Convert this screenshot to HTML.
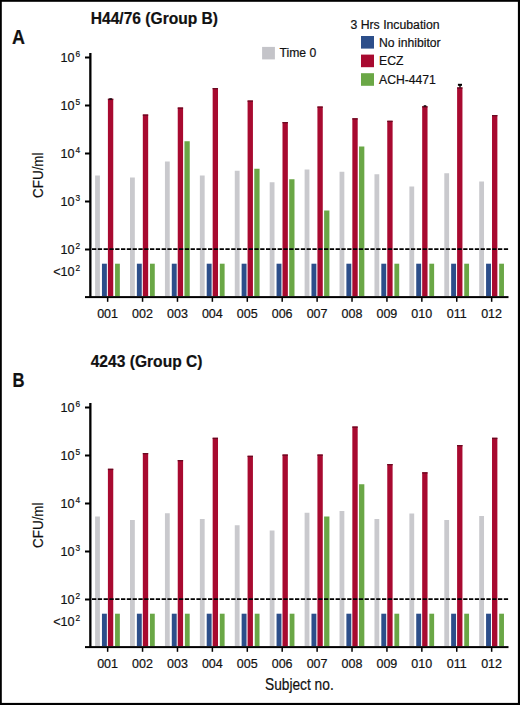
<!DOCTYPE html>
<html><head><meta charset="utf-8"><title>Figure</title>
<style>html,body{margin:0;padding:0;background:#fff;}svg{display:block;}text{fill:#111;stroke:#111;stroke-width:0.2px;}</style>
</head><body>
<svg width="520" height="705" viewBox="0 0 520 705">
<rect x="0" y="0" width="520" height="705" fill="#fff"/>
<rect x="95.10" y="175.50" width="4.80" height="120.50" fill="#c9c9cd"/>
<rect x="101.95" y="263.70" width="4.90" height="32.30" fill="#2c4e8a"/>
<rect x="115.05" y="263.70" width="4.80" height="32.30" fill="#6aa746"/>
<rect x="107.90" y="98.75" width="5.35" height="197.25" fill="#a80a30"/><rect x="107.90" y="98.75" width="5.35" height="1.30" fill="#6a0a22"/>
<rect x="130.02" y="177.50" width="4.80" height="118.50" fill="#c9c9cd"/>
<rect x="136.87" y="263.70" width="4.90" height="32.30" fill="#2c4e8a"/>
<rect x="149.97" y="263.70" width="4.80" height="32.30" fill="#6aa746"/>
<rect x="142.82" y="114.50" width="5.35" height="181.50" fill="#a80a30"/><rect x="142.82" y="114.50" width="5.35" height="1.30" fill="#6a0a22"/>
<rect x="164.94" y="161.50" width="4.80" height="134.50" fill="#c9c9cd"/>
<rect x="171.79" y="263.70" width="4.90" height="32.30" fill="#2c4e8a"/>
<rect x="184.44" y="141.25" width="5.30" height="154.75" fill="#6aa746"/>
<rect x="177.74" y="107.50" width="5.35" height="188.50" fill="#a80a30"/><rect x="177.74" y="107.50" width="5.35" height="1.30" fill="#6a0a22"/>
<rect x="199.86" y="175.50" width="4.80" height="120.50" fill="#c9c9cd"/>
<rect x="206.71" y="263.70" width="4.90" height="32.30" fill="#2c4e8a"/>
<rect x="219.81" y="263.70" width="4.80" height="32.30" fill="#6aa746"/>
<rect x="212.66" y="88.00" width="5.35" height="208.00" fill="#a80a30"/><rect x="212.66" y="88.00" width="5.35" height="1.30" fill="#6a0a22"/>
<rect x="234.78" y="170.75" width="4.80" height="125.25" fill="#c9c9cd"/>
<rect x="241.63" y="263.70" width="4.90" height="32.30" fill="#2c4e8a"/>
<rect x="254.28" y="168.75" width="5.30" height="127.25" fill="#6aa746"/>
<rect x="247.58" y="100.50" width="5.35" height="195.50" fill="#a80a30"/><rect x="247.58" y="100.50" width="5.35" height="1.30" fill="#6a0a22"/>
<rect x="269.70" y="182.25" width="4.80" height="113.75" fill="#c9c9cd"/>
<rect x="276.55" y="263.70" width="4.90" height="32.30" fill="#2c4e8a"/>
<rect x="289.20" y="179.25" width="5.30" height="116.75" fill="#6aa746"/>
<rect x="282.50" y="122.00" width="5.35" height="174.00" fill="#a80a30"/><rect x="282.50" y="122.00" width="5.35" height="1.30" fill="#6a0a22"/>
<rect x="304.62" y="169.50" width="4.80" height="126.50" fill="#c9c9cd"/>
<rect x="311.47" y="263.70" width="4.90" height="32.30" fill="#2c4e8a"/>
<rect x="324.12" y="210.50" width="5.30" height="85.50" fill="#6aa746"/>
<rect x="317.42" y="106.50" width="5.35" height="189.50" fill="#a80a30"/><rect x="317.42" y="106.50" width="5.35" height="1.30" fill="#6a0a22"/>
<rect x="339.54" y="171.75" width="4.80" height="124.25" fill="#c9c9cd"/>
<rect x="346.39" y="263.70" width="4.90" height="32.30" fill="#2c4e8a"/>
<rect x="359.04" y="146.50" width="5.30" height="149.50" fill="#6aa746"/>
<rect x="352.34" y="118.25" width="5.35" height="177.75" fill="#a80a30"/><rect x="352.34" y="118.25" width="5.35" height="1.30" fill="#6a0a22"/>
<rect x="374.46" y="174.25" width="4.80" height="121.75" fill="#c9c9cd"/>
<rect x="381.31" y="263.70" width="4.90" height="32.30" fill="#2c4e8a"/>
<rect x="394.41" y="263.70" width="4.80" height="32.30" fill="#6aa746"/>
<rect x="387.26" y="120.75" width="5.35" height="175.25" fill="#a80a30"/><rect x="387.26" y="120.75" width="5.35" height="1.30" fill="#6a0a22"/>
<rect x="409.38" y="186.50" width="4.80" height="109.50" fill="#c9c9cd"/>
<rect x="416.23" y="263.70" width="4.90" height="32.30" fill="#2c4e8a"/>
<rect x="429.33" y="263.70" width="4.80" height="32.30" fill="#6aa746"/>
<rect x="422.18" y="106.25" width="5.35" height="189.75" fill="#a80a30"/><rect x="422.18" y="106.25" width="5.35" height="1.30" fill="#6a0a22"/>
<rect x="444.30" y="173.25" width="4.80" height="122.75" fill="#c9c9cd"/>
<rect x="451.15" y="263.70" width="4.90" height="32.30" fill="#2c4e8a"/>
<rect x="464.25" y="263.70" width="4.80" height="32.30" fill="#6aa746"/>
<rect x="457.10" y="87.40" width="5.35" height="208.60" fill="#a80a30"/><rect x="457.10" y="87.40" width="5.35" height="1.30" fill="#6a0a22"/>
<rect x="479.22" y="181.50" width="4.80" height="114.50" fill="#c9c9cd"/>
<rect x="486.07" y="263.70" width="4.90" height="32.30" fill="#2c4e8a"/>
<rect x="499.17" y="263.70" width="4.80" height="32.30" fill="#6aa746"/>
<rect x="492.02" y="115.00" width="5.35" height="181.00" fill="#a80a30"/><rect x="492.02" y="115.00" width="5.35" height="1.30" fill="#6a0a22"/>
<rect x="89.2" y="53" width="2.3" height="244.9" fill="#000"/>
<rect x="85" y="296.1" width="423.5" height="2" fill="#000"/>
<rect x="85" y="56.50" width="5" height="2" fill="#000"/>
<text x="74.6" y="61.80" font-family="Liberation Sans, sans-serif" font-size="12.6" text-anchor="end">10</text>
<text x="75.6" y="56.60" font-family="Liberation Sans, sans-serif" font-size="8.3">6</text>
<rect x="85" y="104.50" width="5" height="2" fill="#000"/>
<text x="74.6" y="109.80" font-family="Liberation Sans, sans-serif" font-size="12.6" text-anchor="end">10</text>
<text x="75.6" y="104.60" font-family="Liberation Sans, sans-serif" font-size="8.3">5</text>
<rect x="85" y="152.50" width="5" height="2" fill="#000"/>
<text x="74.6" y="157.80" font-family="Liberation Sans, sans-serif" font-size="12.6" text-anchor="end">10</text>
<text x="75.6" y="152.60" font-family="Liberation Sans, sans-serif" font-size="8.3">4</text>
<rect x="85" y="200.50" width="5" height="2" fill="#000"/>
<text x="74.6" y="205.80" font-family="Liberation Sans, sans-serif" font-size="12.6" text-anchor="end">10</text>
<text x="75.6" y="200.60" font-family="Liberation Sans, sans-serif" font-size="8.3">3</text>
<rect x="85" y="248.50" width="5" height="2" fill="#000"/>
<text x="74.6" y="253.80" font-family="Liberation Sans, sans-serif" font-size="12.6" text-anchor="end">10</text>
<text x="75.6" y="248.60" font-family="Liberation Sans, sans-serif" font-size="8.3">2</text>
<text x="74.6" y="275.70" font-family="Liberation Sans, sans-serif" font-size="12.6" text-anchor="end">&lt;10</text>
<text x="75.6" y="270.80" font-family="Liberation Sans, sans-serif" font-size="8.3">2</text>
<line x1="92" y1="249.2" x2="509" y2="249.2" stroke="#000" stroke-width="1.8" stroke-dasharray="4.3 1.5"/>
<rect x="106.90" y="297.5" width="1.5" height="4.3" fill="#000"/>
<text x="107.60" y="318" font-family="Liberation Sans, sans-serif" font-size="12.5" text-anchor="middle">001</text>
<rect x="141.81" y="297.5" width="1.5" height="4.3" fill="#000"/>
<text x="142.51" y="318" font-family="Liberation Sans, sans-serif" font-size="12.5" text-anchor="middle">002</text>
<rect x="176.72" y="297.5" width="1.5" height="4.3" fill="#000"/>
<text x="177.42" y="318" font-family="Liberation Sans, sans-serif" font-size="12.5" text-anchor="middle">003</text>
<rect x="211.63" y="297.5" width="1.5" height="4.3" fill="#000"/>
<text x="212.33" y="318" font-family="Liberation Sans, sans-serif" font-size="12.5" text-anchor="middle">004</text>
<rect x="246.54" y="297.5" width="1.5" height="4.3" fill="#000"/>
<text x="247.24" y="318" font-family="Liberation Sans, sans-serif" font-size="12.5" text-anchor="middle">005</text>
<rect x="281.45" y="297.5" width="1.5" height="4.3" fill="#000"/>
<text x="282.15" y="318" font-family="Liberation Sans, sans-serif" font-size="12.5" text-anchor="middle">006</text>
<rect x="316.36" y="297.5" width="1.5" height="4.3" fill="#000"/>
<text x="317.06" y="318" font-family="Liberation Sans, sans-serif" font-size="12.5" text-anchor="middle">007</text>
<rect x="351.27" y="297.5" width="1.5" height="4.3" fill="#000"/>
<text x="351.97" y="318" font-family="Liberation Sans, sans-serif" font-size="12.5" text-anchor="middle">008</text>
<rect x="386.18" y="297.5" width="1.5" height="4.3" fill="#000"/>
<text x="386.88" y="318" font-family="Liberation Sans, sans-serif" font-size="12.5" text-anchor="middle">009</text>
<rect x="421.09" y="297.5" width="1.5" height="4.3" fill="#000"/>
<text x="421.79" y="318" font-family="Liberation Sans, sans-serif" font-size="12.5" text-anchor="middle">010</text>
<rect x="456.00" y="297.5" width="1.5" height="4.3" fill="#000"/>
<text x="456.70" y="318" font-family="Liberation Sans, sans-serif" font-size="12.5" text-anchor="middle">011</text>
<rect x="490.91" y="297.5" width="1.5" height="4.3" fill="#000"/>
<text x="491.61" y="318" font-family="Liberation Sans, sans-serif" font-size="12.5" text-anchor="middle">012</text>
<text transform="translate(43.4,197.9) rotate(-90)" font-family="Liberation Sans, sans-serif" font-size="15" textLength="45.4" lengthAdjust="spacingAndGlyphs">CFU/ml</text>
<rect x="95.10" y="516.50" width="4.80" height="129.50" fill="#c9c9cd"/>
<rect x="101.95" y="613.70" width="4.90" height="32.30" fill="#2c4e8a"/>
<rect x="115.05" y="613.70" width="4.80" height="32.30" fill="#6aa746"/>
<rect x="107.90" y="468.75" width="5.35" height="177.25" fill="#a80a30"/><rect x="107.90" y="468.75" width="5.35" height="1.30" fill="#6a0a22"/>
<rect x="130.02" y="520.00" width="4.80" height="126.00" fill="#c9c9cd"/>
<rect x="136.87" y="613.70" width="4.90" height="32.30" fill="#2c4e8a"/>
<rect x="149.97" y="613.70" width="4.80" height="32.30" fill="#6aa746"/>
<rect x="142.82" y="453.00" width="5.35" height="193.00" fill="#a80a30"/><rect x="142.82" y="453.00" width="5.35" height="1.30" fill="#6a0a22"/>
<rect x="164.94" y="513.25" width="4.80" height="132.75" fill="#c9c9cd"/>
<rect x="171.79" y="613.70" width="4.90" height="32.30" fill="#2c4e8a"/>
<rect x="184.89" y="613.70" width="4.80" height="32.30" fill="#6aa746"/>
<rect x="177.74" y="460.00" width="5.35" height="186.00" fill="#a80a30"/><rect x="177.74" y="460.00" width="5.35" height="1.30" fill="#6a0a22"/>
<rect x="199.86" y="519.00" width="4.80" height="127.00" fill="#c9c9cd"/>
<rect x="206.71" y="613.70" width="4.90" height="32.30" fill="#2c4e8a"/>
<rect x="219.81" y="613.70" width="4.80" height="32.30" fill="#6aa746"/>
<rect x="212.66" y="437.75" width="5.35" height="208.25" fill="#a80a30"/><rect x="212.66" y="437.75" width="5.35" height="1.30" fill="#6a0a22"/>
<rect x="234.78" y="525.25" width="4.80" height="120.75" fill="#c9c9cd"/>
<rect x="241.63" y="613.70" width="4.90" height="32.30" fill="#2c4e8a"/>
<rect x="254.73" y="613.70" width="4.80" height="32.30" fill="#6aa746"/>
<rect x="247.58" y="455.75" width="5.35" height="190.25" fill="#a80a30"/><rect x="247.58" y="455.75" width="5.35" height="1.30" fill="#6a0a22"/>
<rect x="269.70" y="530.50" width="4.80" height="115.50" fill="#c9c9cd"/>
<rect x="276.55" y="613.70" width="4.90" height="32.30" fill="#2c4e8a"/>
<rect x="289.65" y="613.70" width="4.80" height="32.30" fill="#6aa746"/>
<rect x="282.50" y="454.50" width="5.35" height="191.50" fill="#a80a30"/><rect x="282.50" y="454.50" width="5.35" height="1.30" fill="#6a0a22"/>
<rect x="304.62" y="512.75" width="4.80" height="133.25" fill="#c9c9cd"/>
<rect x="311.47" y="613.70" width="4.90" height="32.30" fill="#2c4e8a"/>
<rect x="324.12" y="516.50" width="5.30" height="129.50" fill="#6aa746"/>
<rect x="317.42" y="454.50" width="5.35" height="191.50" fill="#a80a30"/><rect x="317.42" y="454.50" width="5.35" height="1.30" fill="#6a0a22"/>
<rect x="339.54" y="511.00" width="4.80" height="135.00" fill="#c9c9cd"/>
<rect x="346.39" y="613.70" width="4.90" height="32.30" fill="#2c4e8a"/>
<rect x="359.04" y="484.25" width="5.30" height="161.75" fill="#6aa746"/>
<rect x="352.34" y="426.50" width="5.35" height="219.50" fill="#a80a30"/><rect x="352.34" y="426.50" width="5.35" height="1.30" fill="#6a0a22"/>
<rect x="374.46" y="519.00" width="4.80" height="127.00" fill="#c9c9cd"/>
<rect x="381.31" y="613.70" width="4.90" height="32.30" fill="#2c4e8a"/>
<rect x="394.41" y="613.70" width="4.80" height="32.30" fill="#6aa746"/>
<rect x="387.26" y="464.00" width="5.35" height="182.00" fill="#a80a30"/><rect x="387.26" y="464.00" width="5.35" height="1.30" fill="#6a0a22"/>
<rect x="409.38" y="513.50" width="4.80" height="132.50" fill="#c9c9cd"/>
<rect x="416.23" y="613.70" width="4.90" height="32.30" fill="#2c4e8a"/>
<rect x="429.33" y="613.70" width="4.80" height="32.30" fill="#6aa746"/>
<rect x="422.18" y="472.25" width="5.35" height="173.75" fill="#a80a30"/><rect x="422.18" y="472.25" width="5.35" height="1.30" fill="#6a0a22"/>
<rect x="444.30" y="520.00" width="4.80" height="126.00" fill="#c9c9cd"/>
<rect x="451.15" y="613.70" width="4.90" height="32.30" fill="#2c4e8a"/>
<rect x="464.25" y="613.70" width="4.80" height="32.30" fill="#6aa746"/>
<rect x="457.10" y="445.00" width="5.35" height="201.00" fill="#a80a30"/><rect x="457.10" y="445.00" width="5.35" height="1.30" fill="#6a0a22"/>
<rect x="479.22" y="516.00" width="4.80" height="130.00" fill="#c9c9cd"/>
<rect x="486.07" y="613.70" width="4.90" height="32.30" fill="#2c4e8a"/>
<rect x="499.17" y="613.70" width="4.80" height="32.30" fill="#6aa746"/>
<rect x="492.02" y="437.75" width="5.35" height="208.25" fill="#a80a30"/><rect x="492.02" y="437.75" width="5.35" height="1.30" fill="#6a0a22"/>
<rect x="89.2" y="403" width="2.3" height="244.9" fill="#000"/>
<rect x="85" y="646.1" width="423.5" height="2" fill="#000"/>
<rect x="85" y="406.50" width="5" height="2" fill="#000"/>
<text x="74.6" y="411.80" font-family="Liberation Sans, sans-serif" font-size="12.6" text-anchor="end">10</text>
<text x="75.6" y="406.60" font-family="Liberation Sans, sans-serif" font-size="8.3">6</text>
<rect x="85" y="454.50" width="5" height="2" fill="#000"/>
<text x="74.6" y="459.80" font-family="Liberation Sans, sans-serif" font-size="12.6" text-anchor="end">10</text>
<text x="75.6" y="454.60" font-family="Liberation Sans, sans-serif" font-size="8.3">5</text>
<rect x="85" y="502.50" width="5" height="2" fill="#000"/>
<text x="74.6" y="507.80" font-family="Liberation Sans, sans-serif" font-size="12.6" text-anchor="end">10</text>
<text x="75.6" y="502.60" font-family="Liberation Sans, sans-serif" font-size="8.3">4</text>
<rect x="85" y="550.50" width="5" height="2" fill="#000"/>
<text x="74.6" y="555.80" font-family="Liberation Sans, sans-serif" font-size="12.6" text-anchor="end">10</text>
<text x="75.6" y="550.60" font-family="Liberation Sans, sans-serif" font-size="8.3">3</text>
<rect x="85" y="598.50" width="5" height="2" fill="#000"/>
<text x="74.6" y="603.80" font-family="Liberation Sans, sans-serif" font-size="12.6" text-anchor="end">10</text>
<text x="75.6" y="598.60" font-family="Liberation Sans, sans-serif" font-size="8.3">2</text>
<text x="74.6" y="625.70" font-family="Liberation Sans, sans-serif" font-size="12.6" text-anchor="end">&lt;10</text>
<text x="75.6" y="620.80" font-family="Liberation Sans, sans-serif" font-size="8.3">2</text>
<line x1="92" y1="599.2" x2="509" y2="599.2" stroke="#000" stroke-width="1.8" stroke-dasharray="4.3 1.5"/>
<rect x="106.90" y="647.5" width="1.5" height="4.3" fill="#000"/>
<text x="107.60" y="668" font-family="Liberation Sans, sans-serif" font-size="12.5" text-anchor="middle">001</text>
<rect x="141.81" y="647.5" width="1.5" height="4.3" fill="#000"/>
<text x="142.51" y="668" font-family="Liberation Sans, sans-serif" font-size="12.5" text-anchor="middle">002</text>
<rect x="176.72" y="647.5" width="1.5" height="4.3" fill="#000"/>
<text x="177.42" y="668" font-family="Liberation Sans, sans-serif" font-size="12.5" text-anchor="middle">003</text>
<rect x="211.63" y="647.5" width="1.5" height="4.3" fill="#000"/>
<text x="212.33" y="668" font-family="Liberation Sans, sans-serif" font-size="12.5" text-anchor="middle">004</text>
<rect x="246.54" y="647.5" width="1.5" height="4.3" fill="#000"/>
<text x="247.24" y="668" font-family="Liberation Sans, sans-serif" font-size="12.5" text-anchor="middle">005</text>
<rect x="281.45" y="647.5" width="1.5" height="4.3" fill="#000"/>
<text x="282.15" y="668" font-family="Liberation Sans, sans-serif" font-size="12.5" text-anchor="middle">006</text>
<rect x="316.36" y="647.5" width="1.5" height="4.3" fill="#000"/>
<text x="317.06" y="668" font-family="Liberation Sans, sans-serif" font-size="12.5" text-anchor="middle">007</text>
<rect x="351.27" y="647.5" width="1.5" height="4.3" fill="#000"/>
<text x="351.97" y="668" font-family="Liberation Sans, sans-serif" font-size="12.5" text-anchor="middle">008</text>
<rect x="386.18" y="647.5" width="1.5" height="4.3" fill="#000"/>
<text x="386.88" y="668" font-family="Liberation Sans, sans-serif" font-size="12.5" text-anchor="middle">009</text>
<rect x="421.09" y="647.5" width="1.5" height="4.3" fill="#000"/>
<text x="421.79" y="668" font-family="Liberation Sans, sans-serif" font-size="12.5" text-anchor="middle">010</text>
<rect x="456.00" y="647.5" width="1.5" height="4.3" fill="#000"/>
<text x="456.70" y="668" font-family="Liberation Sans, sans-serif" font-size="12.5" text-anchor="middle">011</text>
<rect x="490.91" y="647.5" width="1.5" height="4.3" fill="#000"/>
<text x="491.61" y="668" font-family="Liberation Sans, sans-serif" font-size="12.5" text-anchor="middle">012</text>
<text transform="translate(43.4,547.9) rotate(-90)" font-family="Liberation Sans, sans-serif" font-size="15" textLength="45.4" lengthAdjust="spacingAndGlyphs">CFU/ml</text>
<rect x="109.3" y="98.2" width="2.6" height="1.6" fill="#1a0a10"/>
<rect x="423.7" y="105.2" width="2.6" height="1.6" fill="#1a0a10"/>
<rect x="457.9" y="83.8" width="4.1" height="2" fill="#000"/><rect x="459.3" y="85" width="1.4" height="2.6" fill="#000"/>
<text transform="translate(90.7,24.4) scale(1,1.075)" font-family="Liberation Sans, sans-serif" font-size="15.6" font-weight="bold">H44/76 (Group B)</text>
<text transform="translate(90.7,367.1) scale(1,1.075)" font-family="Liberation Sans, sans-serif" font-size="15.6" font-weight="bold">4243 (Group C)</text>
<text transform="translate(12,43.9) scale(0.92,1)" font-family="Liberation Sans, sans-serif" font-size="19.5" font-weight="bold" stroke="#111" stroke-width="0.35">A</text>
<text transform="translate(12.4,386.7) scale(0.86,1)" font-family="Liberation Sans, sans-serif" font-size="19.4" font-weight="bold" stroke="#111" stroke-width="0.35">B</text>
<text transform="translate(350.5,29.4) scale(1,1.05)" font-family="Liberation Sans, sans-serif" font-size="12.25">3 Hrs Incubation</text>
<rect x="361.00" y="36.00" width="13.00" height="12.60" fill="#2c4e8a"/>
<text x="379" y="46.70" font-family="Liberation Sans, sans-serif" font-size="12.2">No inhibitor</text>
<rect x="361.00" y="54.60" width="13.00" height="12.60" fill="#a80a30"/>
<text x="379" y="65.30" font-family="Liberation Sans, sans-serif" font-size="12.2">ECZ</text>
<rect x="361.00" y="73.20" width="13.00" height="12.60" fill="#6aa746"/>
<text x="379" y="83.90" font-family="Liberation Sans, sans-serif" font-size="12.2">ACH-4471</text>
<rect x="262.10" y="46.90" width="12.80" height="12.50" fill="#c4c4c9"/>
<text x="279.5" y="57" font-family="Liberation Sans, sans-serif" font-size="12.2">Time 0</text>
<text x="265" y="689.8" font-family="Liberation Sans, sans-serif" font-size="16.4" textLength="68.7" lengthAdjust="spacingAndGlyphs" stroke="#111" stroke-width="0.15">Subject no.</text>
<rect x="0" y="0" width="520" height="1.8" fill="#000"/>
<rect x="0" y="0" width="1.8" height="705" fill="#000"/>
<rect x="517.9" y="0" width="2.1" height="705" fill="#000"/>
<rect x="0" y="702.9" width="520" height="2.1" fill="#000"/>
</svg>
</body></html>
